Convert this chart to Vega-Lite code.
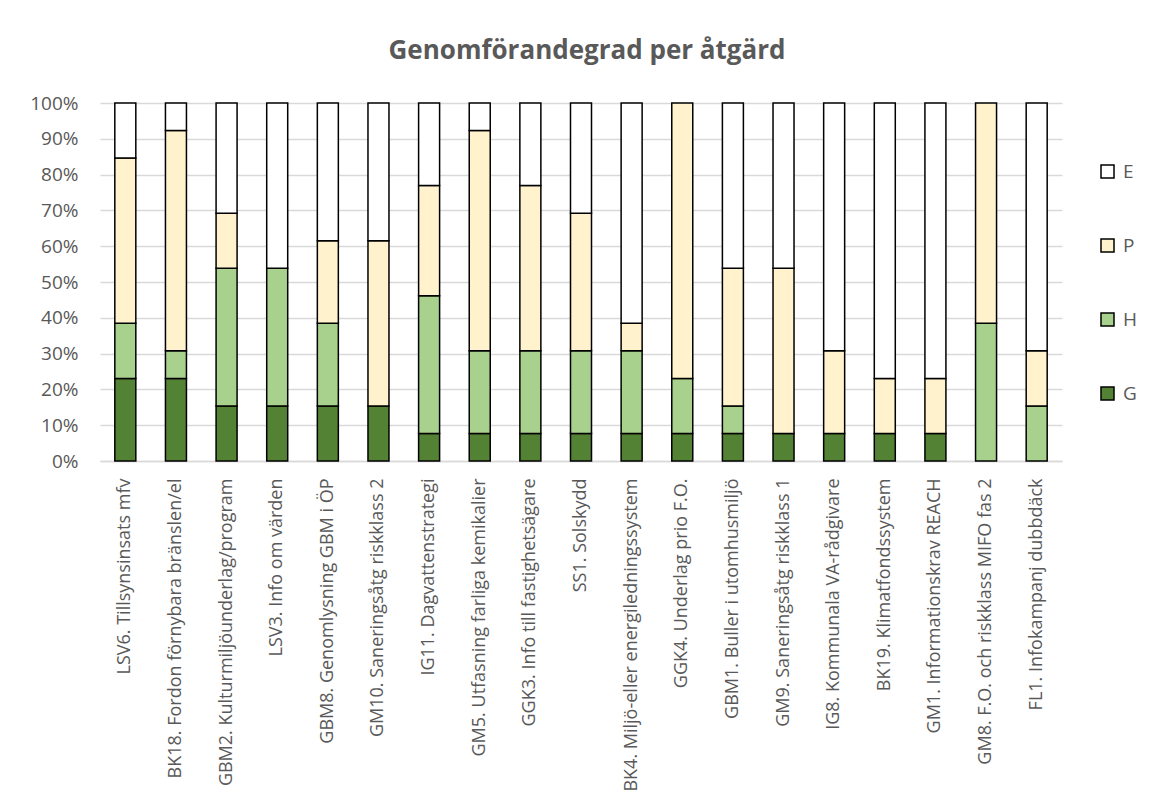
{
  "$schema": "https://vega.github.io/schema/vega-lite/v6.json",
  "width": 962,
  "height": 358,
  "autosize": {"type": "none"},
  "padding": {"left": 100, "top": 103, "right": 92, "bottom": 349},
  "background": "white",
  "title": {"text": "Genomförandegrad per åtgärd", "fontSize": 26, "fontWeight": "bold", "color": "#595959", "font": "Open Sans", "anchor": "middle", "offset": 30, "dx": 6},
  "config": {
    "font": "Open Sans",
    "view": {"stroke": null}
  },
  "data": {"values": [
    {"a": "LSV6. Tillsynsinsats mfv", "s": "G", "n": 3},
    {"a": "LSV6. Tillsynsinsats mfv", "s": "H", "n": 2},
    {"a": "LSV6. Tillsynsinsats mfv", "s": "P", "n": 6},
    {"a": "LSV6. Tillsynsinsats mfv", "s": "E", "n": 2},
    {"a": "BK18. Fordon förnybara bränslen/el", "s": "G", "n": 3},
    {"a": "BK18. Fordon förnybara bränslen/el", "s": "H", "n": 1},
    {"a": "BK18. Fordon förnybara bränslen/el", "s": "P", "n": 8},
    {"a": "BK18. Fordon förnybara bränslen/el", "s": "E", "n": 1},
    {"a": "GBM2. Kulturmiljöunderlag/program", "s": "G", "n": 2},
    {"a": "GBM2. Kulturmiljöunderlag/program", "s": "H", "n": 5},
    {"a": "GBM2. Kulturmiljöunderlag/program", "s": "P", "n": 2},
    {"a": "GBM2. Kulturmiljöunderlag/program", "s": "E", "n": 4},
    {"a": "LSV3. Info om värden", "s": "G", "n": 2},
    {"a": "LSV3. Info om värden", "s": "H", "n": 5},
    {"a": "LSV3. Info om värden", "s": "E", "n": 6},
    {"a": "GBM8. Genomlysning GBM i ÖP", "s": "G", "n": 2},
    {"a": "GBM8. Genomlysning GBM i ÖP", "s": "H", "n": 3},
    {"a": "GBM8. Genomlysning GBM i ÖP", "s": "P", "n": 3},
    {"a": "GBM8. Genomlysning GBM i ÖP", "s": "E", "n": 5},
    {"a": "GM10. Saneringsåtg riskklass 2", "s": "G", "n": 2},
    {"a": "GM10. Saneringsåtg riskklass 2", "s": "P", "n": 6},
    {"a": "GM10. Saneringsåtg riskklass 2", "s": "E", "n": 5},
    {"a": "IG11. Dagvattenstrategi", "s": "G", "n": 1},
    {"a": "IG11. Dagvattenstrategi", "s": "H", "n": 5},
    {"a": "IG11. Dagvattenstrategi", "s": "P", "n": 4},
    {"a": "IG11. Dagvattenstrategi", "s": "E", "n": 3},
    {"a": "GM5. Utfasning farliga kemikalier", "s": "G", "n": 1},
    {"a": "GM5. Utfasning farliga kemikalier", "s": "H", "n": 3},
    {"a": "GM5. Utfasning farliga kemikalier", "s": "P", "n": 8},
    {"a": "GM5. Utfasning farliga kemikalier", "s": "E", "n": 1},
    {"a": "GGK3. Info till fastighetsägare", "s": "G", "n": 1},
    {"a": "GGK3. Info till fastighetsägare", "s": "H", "n": 3},
    {"a": "GGK3. Info till fastighetsägare", "s": "P", "n": 6},
    {"a": "GGK3. Info till fastighetsägare", "s": "E", "n": 3},
    {"a": "SS1. Solskydd", "s": "G", "n": 1},
    {"a": "SS1. Solskydd", "s": "H", "n": 3},
    {"a": "SS1. Solskydd", "s": "P", "n": 5},
    {"a": "SS1. Solskydd", "s": "E", "n": 4},
    {"a": "BK4. Miljö-eller energiledningssystem", "s": "G", "n": 1},
    {"a": "BK4. Miljö-eller energiledningssystem", "s": "H", "n": 3},
    {"a": "BK4. Miljö-eller energiledningssystem", "s": "P", "n": 1},
    {"a": "BK4. Miljö-eller energiledningssystem", "s": "E", "n": 8},
    {"a": "GGK4. Underlag prio F.O.", "s": "G", "n": 1},
    {"a": "GGK4. Underlag prio F.O.", "s": "H", "n": 2},
    {"a": "GGK4. Underlag prio F.O.", "s": "P", "n": 10},
    {"a": "GBM1. Buller i utomhusmiljö", "s": "G", "n": 1},
    {"a": "GBM1. Buller i utomhusmiljö", "s": "H", "n": 1},
    {"a": "GBM1. Buller i utomhusmiljö", "s": "P", "n": 5},
    {"a": "GBM1. Buller i utomhusmiljö", "s": "E", "n": 6},
    {"a": "GM9. Saneringsåtg riskklass 1", "s": "G", "n": 1},
    {"a": "GM9. Saneringsåtg riskklass 1", "s": "P", "n": 6},
    {"a": "GM9. Saneringsåtg riskklass 1", "s": "E", "n": 6},
    {"a": "IG8. Kommunala VA-rådgivare", "s": "G", "n": 1},
    {"a": "IG8. Kommunala VA-rådgivare", "s": "P", "n": 3},
    {"a": "IG8. Kommunala VA-rådgivare", "s": "E", "n": 9},
    {"a": "BK19. Klimatfondssystem", "s": "G", "n": 1},
    {"a": "BK19. Klimatfondssystem", "s": "P", "n": 2},
    {"a": "BK19. Klimatfondssystem", "s": "E", "n": 10},
    {"a": "GM1. Informationskrav REACH", "s": "G", "n": 1},
    {"a": "GM1. Informationskrav REACH", "s": "P", "n": 2},
    {"a": "GM1. Informationskrav REACH", "s": "E", "n": 10},
    {"a": "GM8. F.O. och riskklass MIFO fas 2", "s": "H", "n": 5},
    {"a": "GM8. F.O. och riskklass MIFO fas 2", "s": "P", "n": 8},
    {"a": "FL1. Infokampanj dubbdäck", "s": "H", "n": 2},
    {"a": "FL1. Infokampanj dubbdäck", "s": "P", "n": 2},
    {"a": "FL1. Infokampanj dubbdäck", "s": "E", "n": 9}
  ]},
  "transform": [
    {"calculate": "indexof(['G','H','P','E'], datum.s)", "as": "k"}
  ],
  "mark": {"type": "bar", "size": 21, "stroke": "#000000", "strokeWidth": 1.5},
  "encoding": {
    "x": {
      "field": "a", "type": "nominal", "sort": null, "title": null,
      "axis": {
        "labelAngle": -90, "labelAlign": "right", "labelBaseline": "middle",
        "labelFontSize": 18, "labelColor": "#595959", "labelPadding": 17,
        "labelLimit": 0, "ticks": false, "domainColor": "#D9D9D9", "domainWidth": 1.5
      }
    },
    "y": {
      "field": "n", "type": "quantitative", "stack": "normalize", "title": null,
      "scale": {"domain": [0, 1]},
      "axis": {
        "format": ".0%", "values": [0, 0.1, 0.2, 0.3, 0.4, 0.5, 0.6, 0.7, 0.8, 0.9, 1],
        "labelFontSize": 19, "labelColor": "#595959", "labelPadding": 22,
        "ticks": false, "domain": false, "gridColor": "#D9D9D9", "gridWidth": 1.5
      }
    },
    "color": {
      "field": "s", "type": "nominal",
      "scale": {"domain": ["E", "P", "H", "G"], "range": ["#FFFFFF", "#FFF2CC", "#A9D18E", "#548235"]},
      "legend": {
        "title": null, "orient": "none", "legendX": 998, "legendY": 59,
        "symbolType": "square", "symbolSize": 169, "symbolStrokeColor": "#000000", "symbolStrokeWidth": 1.5,
        "labelFontSize": 19, "labelColor": "#595959", "labelOffset": 6, "rowPadding": 54
      }
    },
    "order": {"field": "k", "type": "quantitative", "sort": "ascending"}
  }
}
